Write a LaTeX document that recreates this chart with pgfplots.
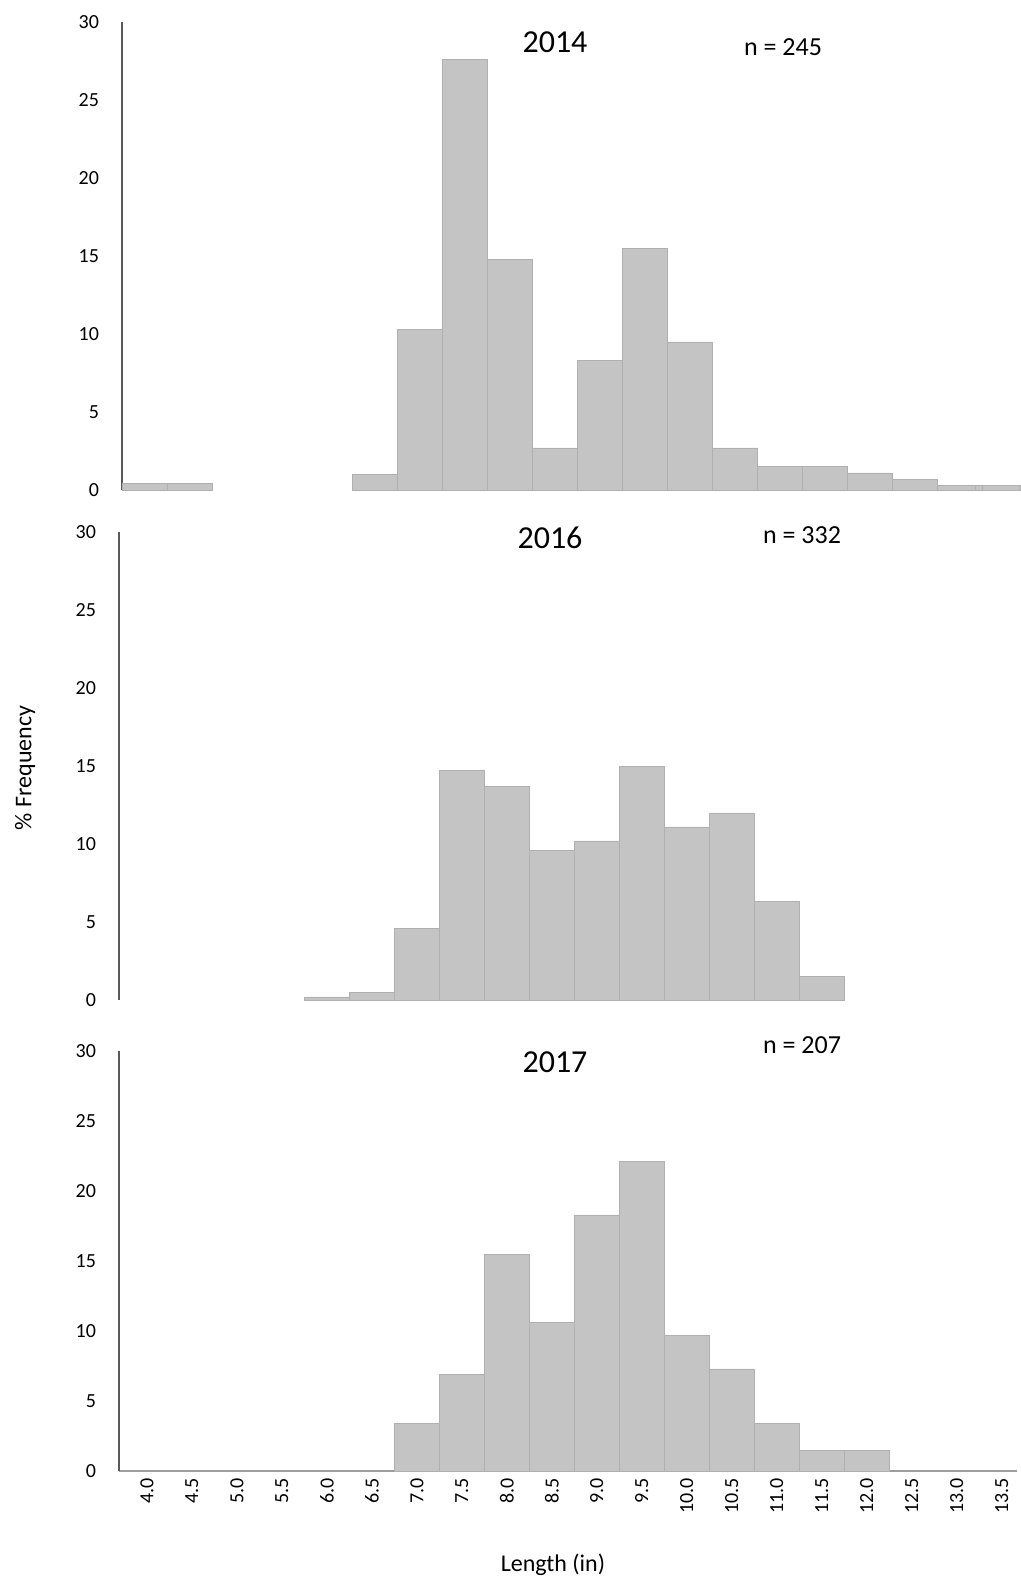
\documentclass[border=0pt]{standalone}
\usepackage{pgfplots}
\pgfplotsset{compat=1.18}
\usepackage{fontspec}
\setmainfont{Carlito}
\definecolor{barg}{HTML}{C4C4C4}
\pgfplotsset{
  panel/.style={
    scale only axis, width=449pt, anchor=south west,
    xmin=3.69, xmax=13.67, ymin=0, ymax=30,
    ytick={0,5,...,30}, axis y line*=left,
    y axis line style={gray!70!black, line width=0.6pt},
    major tick length=0pt, yticklabel style={font=\fontsize{10}{12}\selectfont, xshift=-8pt},
    ybar, bar width=0.5, bar shift=0pt,
    /pgf/number format/assume math mode=true,
    clip=false
  },
  barst/.style={fill=barg, draw=barg!90!black, line width=0.3pt}
}
\begin{document}
\begin{tikzpicture}[x=0.5pt,y=-0.5pt]
\useasboundingbox (0,0) rectangle (1021,1583);
% 2014
\begin{axis}[panel, axis x line=none, height=234pt, at={(61pt,-245pt)}]
\addplot[barst] coordinates {(3.94,0.4)(4.44,0.4)(6.5,1.0)(7.0,10.3)(7.5,27.6)(8.0,14.8)(8.5,2.7)(9.0,8.3)(9.5,15.5)(10.0,9.5)(10.5,2.7)(11.0,1.5)(11.5,1.5)(12.0,1.1)(12.5,0.7)(13.0,0.3)(13.42,0.3)};
\end{axis}
\node[font=\fontsize{16}{19}\selectfont] at (555,42) {2014};
\node[font=\fontsize{13}{16}\selectfont] at (783,47) {n = 245};
% 2016
\begin{axis}[panel, axis x line=none, height=234pt, at={(59.5pt,-500pt)}]
\addplot[barst] coordinates {(6.0,0.2)(6.5,0.5)(7.0,4.6)(7.5,14.7)(8.0,13.7)(8.5,9.6)(9.0,10.2)(9.5,15.0)(10.0,11.1)(10.5,12.0)(11.0,6.3)(11.5,1.5)};
\end{axis}
\node[font=\fontsize{16}{19}\selectfont] at (550,538) {2016};
\node[font=\fontsize{13}{16}\selectfont] at (802,535) {n = 332};
% 2017
\begin{axis}[panel, height=210pt, at={(59.5pt,-735.5pt)},
  axis x line*=bottom, x axis line style={barg!80!black,line width=0.6pt,-},
  xtick={4,4.5,...,13.5}, xticklabel style={rotate=90, anchor=east, font=\fontsize{10}{12}\selectfont, /pgf/number format/.cd, fixed, fixed zerofill, precision=1}]
\addplot[barst] coordinates {(7.0,3.4)(7.5,6.9)(8.0,15.5)(8.5,10.6)(9.0,18.3)(9.5,22.1)(10.0,9.7)(10.5,7.3)(11.0,3.4)(11.5,1.5)(12.0,1.5)};
\end{axis}
\node[font=\fontsize{16}{19}\selectfont] at (555,1062) {2017};
\node[font=\fontsize{13}{16}\selectfont] at (802,1045) {n = 207};
\node[font=\fontsize{12}{14}\selectfont, rotate=90] at (25,768) {\% Frequency};
\node[font=\fontsize{12}{14}\selectfont] at (553,1565) {Length (in)};
\end{tikzpicture}
\end{document}
